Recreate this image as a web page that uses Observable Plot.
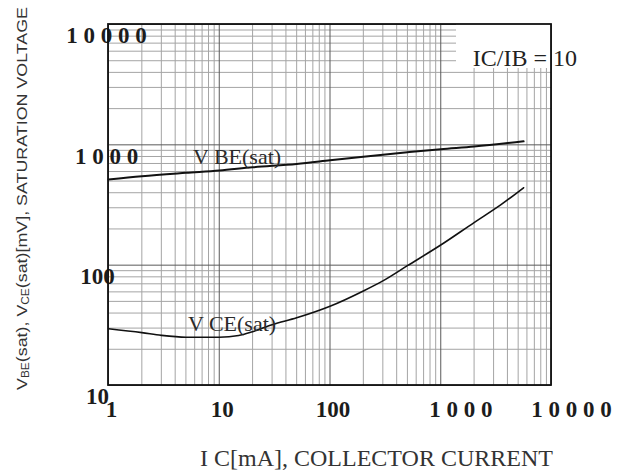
<!DOCTYPE html>
<html>
<head>
<meta charset="utf-8">
<script src="https://cdn.jsdelivr.net/npm/d3@7"></script>
<script src="https://cdn.jsdelivr.net/npm/@observablehq/plot@0.6"></script>
<style>
  html, body { margin: 0; padding: 0; background: #fff; }
  #chart { width: 625px; height: 474px; }
</style>
</head>
<body>
<div id="chart"></div>
<script>
// ---- Data ----
const icVBE = [1, 2, 5, 10, 20, 50, 100, 200, 500, 1000, 2000, 5600];
const vbe   = [514, 548, 585, 612, 650, 693, 743, 797, 867, 920, 968, 1070];

const icVCE = [1, 2, 3, 5, 10, 15, 20, 30, 50, 100, 200, 300, 500, 1000, 2000, 3500, 5600];
const vce   = [29.6, 27.5, 26.1, 25.2, 25.2, 26, 28, 32, 36.5, 45.5, 61, 74, 99, 147, 226, 318, 440];

const seriesNames = ["V BE(sat)", "V CE(sat)"];
const ratioLabel = "IC/IB = 10";

const xTicks = [1, 10, 100, 1000, 10000];
const xTickLabels = ["1", "10", "100", "1 0 0 0", "1 0 0 0 0"];
const yTicks = [10, 100, 1000, 10000];
const yTickLabels = ["10", "100", "1 0 0 0", "1 0 0 0 0"];

const xTitle = "I C[mA], COLLECTOR CURRENT";

// grid lines (log paper)
const xGridMajor = [1, 10, 100, 1000, 10000];
const xGridMinor = [];
for (const d of [1, 10, 100, 1000]) for (let m = 2; m <= 9; m++) xGridMinor.push(m * d);
const yGridMajor = [10, 100, 1000, 10000];
const yGridMinor = [];
for (const d of [10, 100, 1000]) for (let m = 2; m <= 9; m++) yGridMinor.push(m * d);

// ---- Tables built from the arrays ----
const vbeRows = icVBE.map((ic, i) => ({ic, v: vbe[i]}));
const vceRows = icVCE.map((ic, i) => ({ic, v: vce[i]}));
const xTickRows = xTicks.map((v, i) => ({v, label: xTickLabels[i]}));
const yTickRows = yTicks.map((v, i) => ({v, label: yTickLabels[i]}));
const spaced = r => r.label.includes(" ");

// ---- Layout / style ----
const W = 625, H = 474;
const M = {top: 24, right: 74, bottom: 89, left: 108};
const serif = "'Liberation Serif', 'Times New Roman', serif";
const sans = "'Liberation Sans', Arial, sans-serif";
const tickStyle = {fontFamily: serif, fontWeight: "bold", fontSize: 23, fill: "#1c1c1c"};

const plot = Plot.plot({
  width: W, height: H,
  marginTop: M.top, marginRight: M.right, marginBottom: M.bottom, marginLeft: M.left,
  x: {type: "log", domain: [1, 10000], axis: null},
  y: {type: "log", domain: [10, 10000], axis: null},
  style: {background: "#fff", overflow: "visible"},
  marks: [
    Plot.ruleX(xGridMinor, {stroke: "#a4a4a4", strokeWidth: 1}),
    Plot.ruleY(yGridMinor, {stroke: "#a4a4a4", strokeWidth: 1}),
    Plot.ruleX(xGridMajor, {stroke: "#5a5a5a", strokeWidth: 1}),
    Plot.ruleY(yGridMajor, {stroke: "#5a5a5a", strokeWidth: 1}),
    Plot.line(vbeRows, {x: "ic", y: "v", curve: "monotone-x", stroke: "#111", strokeWidth: 2}),
    Plot.line(vceRows, {x: "ic", y: "v", curve: "monotone-x", stroke: "#111", strokeWidth: 1.6}),
    Plot.text([vbeRows[2]], {
      x: "ic", y: "v", text: () => seriesNames[0], textAnchor: "start", lineAnchor: "bottom",
      dx: 7, dy: -9, fontFamily: serif, fontSize: 22, fill: "#2a2a2a"
    }),
    Plot.text([vceRows[3]], {
      x: "ic", y: "v", text: () => seriesNames[1], textAnchor: "start", lineAnchor: "bottom",
      dx: 2, dy: -6, fontFamily: serif, fontSize: 22, fill: "#2a2a2a"
    }),
    Plot.text(xTickRows.filter(r => !spaced(r)), {
      x: "v", text: "label", frameAnchor: "bottom", textAnchor: "middle", lineAnchor: "top",
      dx: 3, dy: 15, ...tickStyle
    }),
    Plot.text(xTickRows.filter(spaced), {
      x: "v", text: "label", frameAnchor: "bottom", textAnchor: "middle", lineAnchor: "top",
      dx: 20, dy: 15, ...tickStyle
    }),
    Plot.text(yTickRows.filter(r => !spaced(r)), {
      y: "v", text: "label", frameAnchor: "left", textAnchor: "middle", lineAnchor: "top",
      dx: -11, dy: 2.5, ...tickStyle
    }),
    Plot.text(yTickRows.filter(spaced), {
      y: "v", text: "label", frameAnchor: "left", textAnchor: "middle", lineAnchor: "top",
      dx: -2, dy: 2.5, ...tickStyle
    })
  ]
});

document.getElementById("chart").appendChild(plot);
const svg = d3.select(plot);

// white patch that clears the grid in the top-right corner (behind the IC/IB note)
const frameRight = W - M.right;
svg.append("rect")
  .attr("x", frameRight - 95).attr("y", M.top)
  .attr("width", 95).attr("height", 44)
  .style("fill", "#ffffff").style("stroke", "none");

// IC/IB annotation, anchored to the frame's top-right corner
svg.append("text")
  .attr("x", frameRight + 26).attr("y", M.top + 42)
  .attr("text-anchor", "end")
  .style("font-family", serif).style("font-size", "24px").style("fill", "#222")
  .text(ratioLabel);

// frame on top
svg.append("rect")
  .attr("x", M.left).attr("y", M.top)
  .attr("width", W - M.left - M.right).attr("height", H - M.top - M.bottom)
  .style("fill", "none").style("stroke", "#111").style("stroke-width", 1.8);

// x-axis title
const frameCx = (M.left + W - M.right) / 2;
svg.append("text")
  .attr("x", frameCx + 47).attr("y", H - 8)
  .attr("text-anchor", "middle")
  .style("font-family", serif).style("font-size", "24px").style("fill", "#333")
  .text(xTitle);

// y-axis title (rotated), with subscripts
const yt = svg.append("text")
  .attr("transform", `translate(27, ${(M.top + H - M.bottom) / 2 - 6}) rotate(-90)`)
  .attr("text-anchor", "middle")
  .style("font-family", sans).style("font-size", "15px").style("fill", "#333")
  .attr("textLength", 383).attr("lengthAdjust", "spacingAndGlyphs");
yt.append("tspan").text("V");
yt.append("tspan").style("font-size", "10px").attr("dy", 2).text("BE");
yt.append("tspan").attr("dy", -2).text("(sat), V");
yt.append("tspan").style("font-size", "10px").attr("dy", 2).text("CE");
yt.append("tspan").attr("dy", -2).text("(sat)[mV], SATURATION VOLTAGE");
</script>
</body>
</html>
